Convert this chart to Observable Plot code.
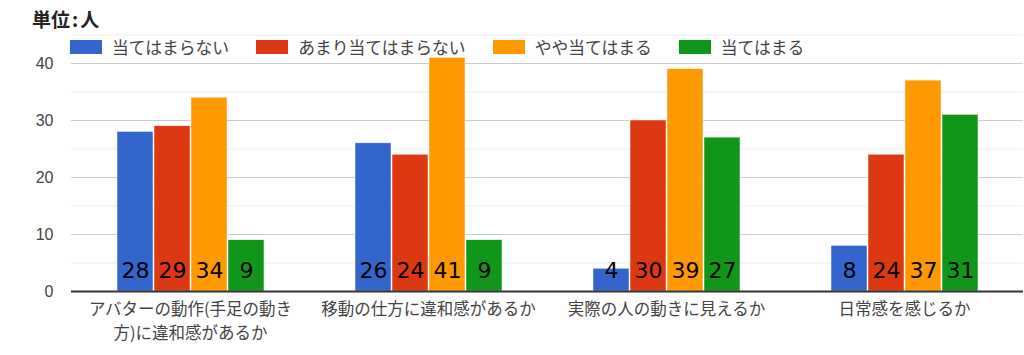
<!DOCTYPE html>
<html><head><meta charset="utf-8">
<script src="https://cdn.jsdelivr.net/npm/d3@7"></script>
<script src="https://cdn.jsdelivr.net/npm/@observablehq/plot@0.6"></script>
<style>
body{margin:0;background:#fff;font-family:"Noto Sans CJK JP","Liberation Sans",sans-serif;}
#wrap{position:relative;width:1024px;height:355px;}
#title{position:absolute;left:32px;top:5px;font-size:19px;font-weight:bold;color:#222;}
#legend{position:absolute;left:70px;top:35px;display:flex;align-items:center;font-size:16.8px;color:#444;}
.item{display:flex;align-items:center;margin-right:27px;}
.sw{width:32px;height:14px;margin-right:10px;}
</style></head>
<body><div id="wrap"><div id="title">単位<span style="margin:0 2px">:</span>人</div><div id="legend"></div></div>
<script>
const categories = ["アバターの動作(手足の動き方)に違和感があるか", "移動の仕方に違和感があるか", "実際の人の動きに見えるか", "日常感を感じるか"];
const tickLabels = ["アバターの動作(手足の動き\n方)に違和感があるか", "移動の仕方に違和感があるか", "実際の人の動きに見えるか", "日常感を感じるか"];
const series = ["当てはまらない", "あまり当てはまらない", "やや当てはまる", "当てはまる"];
const notApplicable = [28, 26, 4, 8];
const ratherNot = [29, 24, 30, 24];
const somewhat = [34, 41, 39, 37];
const applicable = [9, 9, 27, 31];
const colors = ["#3366cc", "#dc3912", "#ff9900", "#109618"];
const yTicks = [0, 10, 20, 30, 40];
const minorTicks = [5, 15, 25, 35, 45];

const seriesValues = [notApplicable, ratherNot, somewhat, applicable];
const data = [];
categories.forEach((c, i) => series.forEach((s, j) => data.push({cat: c, series: s, value: seriesValues[j][i]})));

const chart = Plot.plot({
  width: 1024, height: 355,
  marginLeft: 71, marginRight: 1, marginTop: 34.5, marginBottom: 64,
  fx: {domain: categories, padding: 0, label: null},
  x: {domain: series, axis: null, paddingInner: 0.035, paddingOuter: 1.2},
  y: {domain: [0, 45], axis: null},
  color: {domain: series, range: colors},
  style: {fontFamily: '"Liberation Sans","Noto Sans CJK JP",sans-serif'},
  marks: [
    Plot.ruleY(minorTicks, {stroke: "#eeeeee", strokeWidth: 1}),
    Plot.ruleY(yTicks.filter(d => d > 0), {stroke: "#cccccc", strokeWidth: 1}),
    Plot.barY(data, {fx: "cat", x: "series", y: "value", fill: "series", stroke: "#fff", strokeWidth: 0.5}),
    Plot.text(data, {fx: "cat", x: "series", y: 0, text: d => String(d.value), dy: -21, fontSize: 22, fill: "#000", fontFamily: '"DejaVu Sans",sans-serif'}),
    Plot.ruleY([0], {stroke: "#333", strokeWidth: 2}),
    Plot.axisY({ticks: yTicks, tickSize: 0, tickPadding: 18, fontSize: 16, color: "#444", label: null}),
    Plot.axisFx({anchor: "bottom", tickSize: 0, tickPadding: 6, fontSize: 16.5, lineHeight: 1.46, color: "#444", label: null,
      tickFormat: d => tickLabels[categories.indexOf(d)], fontFamily: '"Noto Sans CJK JP",sans-serif'})
  ]
});
document.getElementById("wrap").prepend(chart);
chart.style.position = "absolute"; chart.style.left = "0"; chart.style.top = "0";
const leg = document.getElementById("legend");
series.forEach((s, i) => {
  const it = document.createElement("div"); it.className = "item";
  const sw = document.createElement("div"); sw.className = "sw"; sw.style.background = colors[i];
  const t = document.createElement("span"); t.textContent = s;
  it.append(sw, t); leg.append(it);
});
</script></body></html>
